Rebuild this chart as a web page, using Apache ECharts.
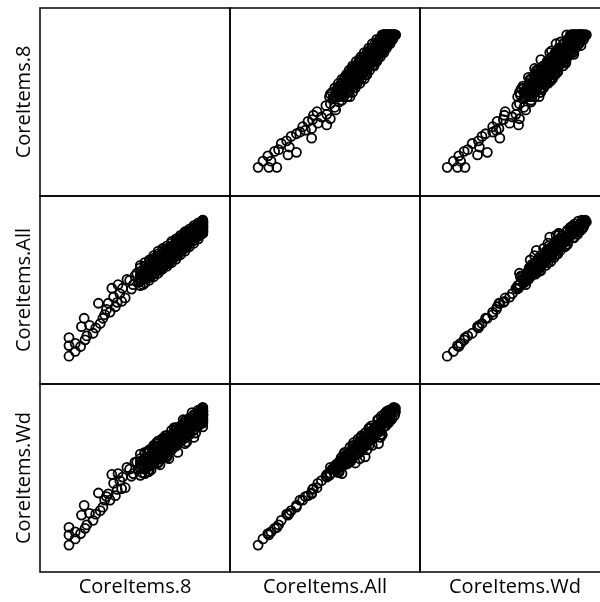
<!DOCTYPE html>
<html><head><meta charset="utf-8">
<script src="https://cdn.jsdelivr.net/npm/echarts@6/dist/echarts.min.js"></script>
<style>html,body{margin:0;padding:0;background:#fff}#c{width:600px;height:602px}</style>
</head><body><div id="c"></div>
<script>
const varNames = ['CoreItems.8', 'CoreItems.All', 'CoreItems.Wd'];

const coreItems8 = [
  1.0,1.0,1.0,1.7,1.7,2.3,2.8,2.7,2.4,3.3,3.7,4.0,4.3,4.5,5.0,5.4,5.6,5.8,6.0,6.2,6.5,6.7,6.9,7.5,7.8,7.3,8.0,8.6,8.8,8.4,3.0,5.2,7.0,6.4,8.2,4.8,
  9,9,9,9,9,9,9,9,
  9.5,9.5,9.5,9.5,9.5,9.5,9.5,9.5,
  10,10,10,10,10,10,10,10,10,10,10,10,
  10.5,10.5,10.5,10.5,10.5,10.5,10.5,10.5,10.5,10.5,10.5,10.5,
  11,11,11,11,11,11,11,11,11,11,11,11,11,11,
  11.5,11.5,11.5,11.5,11.5,11.5,11.5,11.5,11.5,11.5,11.5,11.5,11.5,11.5,
  12,12,12,12,12,12,12,12,12,12,12,12,12,12,
  12.5,12.5,12.5,12.5,12.5,12.5,12.5,12.5,12.5,12.5,12.5,12.5,12.5,12.5,
  13,13,13,13,13,13,13,13,13,13,13,13,13,13,
  13.5,13.5,13.5,13.5,13.5,13.5,13.5,13.5,13.5,13.5,13.5,13.5,13.5,13.5,
  14,14,14,14,14,14,14,14,14,14,14,14,14,14,
  14.5,14.5,14.5,14.5,14.5,14.5,14.5,14.5,14.5,14.5,14.5,14.5,14.5,14.5,
  15,15,15,15,15,15,15,15,15,15,15,15,15,15,
  15.5,15.5,15.5,15.5,15.5,15.5,15.5,15.5,15.5,15.5,15.5,15.5,15.5,15.5,
  16,16,16,16,16,16,16,16,16,16,16,16,16,16,16,16,16,16,16,16,
  9.2,9.8,10.2,10.8,11.2,11.8,12.2,12.8,13.2,13.8,14.2,14.8,15.2,15.8,16,16,16,16,
  9.3,9.9,10.3,10.9,11.3,11.9,12.3,12.9,13.3,13.9,14.3,14.9,15.3,15.9,16,16,16,16,
  9.7,10.2,10.7,11.2,11.7,12.2,12.7,13.2,13.7,14.2,14.7,15.2,15.7,16
];
const coreItemsAll = [
  0.9,2.1,3.0,2.35,1.45,2.0,2.75,5.2,4.25,4.4,3.5,4.1,6.9,4.6,5.6,6.9,5.9,8.6,7.6,6.5,9.0,8.0,7.1,9.6,9.5,7.5,8.5,10.3,9.3,10.0,3.2,6.2,8.6,7.0,9.0,5.2,
  8.9,9.4,9.8,10.1,10.5,10.9,11.2,9.6,
  9.2,9.7,10.0,10.3,10.8,11.1,11.5,10.5,
  9.5,9.8,10.1,10.4,10.6,10.9,11.1,11.3,11.6,11.8,10.3,10.7,
  9.9,10.2,10.5,10.8,11.0,11.3,11.5,11.8,12.0,12.3,10.7,11.4,
  10.3,10.6,10.9,11.1,11.3,11.6,11.8,12.0,12.2,12.5,12.8,11.4,11.9,10.8,
  10.8,11.0,11.3,11.6,11.8,12.0,12.2,12.4,12.6,12.9,13.1,11.7,12.3,11.2,
  11.1,11.4,11.7,11.9,12.1,12.3,12.5,12.7,12.9,13.1,13.4,12.0,12.6,11.6,
  11.5,11.8,12.1,12.4,12.6,12.8,13.0,13.2,13.4,13.7,13.9,12.5,13.1,12.2,
  11.9,12.2,12.5,12.8,13.0,13.2,13.4,13.6,13.8,14.0,14.2,12.9,13.5,12.7,
  12.4,12.7,13.0,13.2,13.4,13.6,13.8,14.0,14.2,14.4,14.6,13.3,13.9,13.1,
  12.8,13.1,13.4,13.6,13.8,14.0,14.2,14.4,14.6,14.8,15.0,13.9,14.3,13.5,
  13.3,13.6,13.9,14.1,14.3,14.5,14.7,14.9,15.1,15.3,14.8,14.0,14.6,15.0,
  13.7,14.0,14.3,14.5,14.7,14.9,15.1,15.3,15.5,15.7,14.6,15.0,14.4,15.2,
  14.2,14.5,14.8,15.0,15.2,15.4,15.6,15.8,16.0,14.9,15.3,15.7,14.6,15.1,
  14.8,14.9,15.0,15.1,15.2,15.3,15.4,15.5,15.6,15.7,15.8,15.9,16.0,16.1,16.2,16.3,15.5,15.8,16.0,15.2,
  9.9,10.6,10.9,11.6,11.9,12.5,12.8,13.4,13.7,14.3,14.6,15.2,15.5,15.9,15.7,16.1,15.4,15.9,
  9.0,10.0,10.5,11.0,11.5,12.0,12.4,13.0,13.3,13.8,14.8,14.7,15.2,15.6,16.2,15.0,15.6,16.3,
  10.2,10.0,11.2,10.6,12.1,11.4,12.9,12.3,13.6,13.3,14.4,14.3,15.3,15.0
];
const coreItemsWd = [
  0.8,1.95,2.8,2.3,1.5,2.1,2.7,5.3,4.2,4.4,3.6,4.3,6.7,4.7,5.9,6.6,5.9,8.8,7.8,6.4,8.9,8.1,7.2,9.6,9.4,7.3,8.6,10.2,9.4,10.2,3.1,6.3,8.5,7.1,8.9,5.1,
  8.7,9.6,9.5,10.3,10.0,10.6,11.1,9.9,
  9.4,9.5,10.2,8.9,10.6,11.3,11.2,10.1,
  9.7,9.4,10.3,10.1,10.9,10.5,11.3,10.8,11.5,11.6,9.9,10.2,
  10.1,10.0,10.6,10.4,11.2,10.3,11.4,11.5,11.9,12.1,10.9,10.8,
  10.5,10.2,11.0,10.7,11.4,11.1,10.1,11.8,12.0,12.3,12.6,10.6,11.5,10.9,
  10.9,11.2,10.8,11.7,11.3,12.1,11.6,12.3,11.9,12.7,12.9,11.5,10.6,11.3,
  11.0,11.5,11.3,11.9,12.2,11.7,12.4,12.1,10.8,13.0,13.2,12.1,12.6,11.8,
  11.6,11.7,12.2,12.0,12.7,12.3,12.9,12.6,13.3,12.1,13.8,12.6,11.6,12.4,
  12.0,12.1,12.6,12.4,13.1,12.7,12.2,13.5,13.2,13.9,14.1,12.9,13.0,12.8,
  12.5,12.6,13.1,12.8,13.5,13.0,13.7,13.6,14.1,14.3,13.3,13.4,12.9,13.2,
  12.9,13.0,13.5,13.2,13.9,13.6,14.1,12.3,14.5,14.7,14.9,14.0,13.7,13.6,
  13.4,13.5,14.0,13.7,14.4,14.1,14.6,14.8,15.0,15.2,13.3,13.9,14.3,14.6,
  13.8,13.9,14.4,14.2,14.8,14.5,15.0,15.2,15.6,15.5,13.0,14.7,14.5,14.9,
  14.3,14.4,14.9,14.7,15.3,15.0,15.5,15.8,16.1,15.0,15.2,15.6,14.5,14.8,
  14.7,14.6,15.1,14.9,15.0,15.2,15.5,15.3,15.6,15.5,15.7,15.9,16.0,16.2,16.1,16.3,15.6,15.8,15.9,15.4,
  9.0,11.3,10.0,12.4,11.0,13.2,11.9,14.1,12.8,15.0,13.7,15.8,14.6,16.2,14.9,16.4,16.0,15.1,
  9.6,9.1,11.1,10.1,12.1,11.2,13.0,12.1,14.0,12.9,13.3,15.4,14.3,16.1,15.5,15.6,14.8,15.9,
  10.7,9.3,11.9,9.9,12.8,10.6,13.5,11.3,14.3,12.5,15.0,13.5,15.9,14.2
];

const AX_MIN = -2.25, AX_MAX = 19.05;
const vars = [coreItems8, coreItemsAll, coreItemsWd];
const nameStyle = { fontFamily: 'Open Sans', fontSize: 20, color: '#000' };

const grids = [], xAxes = [], yAxes = [], series = [];
for (let r = 0; r < 3; r++) {
  for (let c = 0; c < 3; c++) {
    const idx = r * 3 + c;
    grids.push({
      left: 40 + 190 * c, top: 8 + 188 * r, width: 190, height: 188,
      show: true, borderColor: '#000', borderWidth: 1.5,
      backgroundColor: 'transparent', outerBoundsMode: 'none', containLabel: false
    });
    const common = {
      gridIndex: idx, type: 'value', min: AX_MIN, max: AX_MAX,
      axisLine: { show: false }, axisTick: { show: false },
      axisLabel: { show: false }, splitLine: { show: false },
      nameLocation: 'middle', nameTextStyle: nameStyle
    };
    xAxes.push(Object.assign({}, common, { name: r === 2 ? varNames[c] : '', nameGap: 5 }));
    yAxes.push(Object.assign({}, common, { name: c === 0 ? varNames[r] : '', nameGap: 6, nameRotate: 90 }));
    if (r !== c) {
      series.push({
        type: 'scatter', xAxisIndex: idx, yAxisIndex: idx,
        data: vars[c].map((v, i) => [v, vars[r][i]]),
        symbol: 'circle', symbolSize: 9, silent: true,
        itemStyle: { color: 'rgba(0,0,0,0)', borderColor: '#000', borderWidth: 1.8, opacity: 1 }
      });
    }
  }
}

const chart = echarts.init(document.getElementById('c'), null, { renderer: 'canvas' });
chart.setOption({
  animation: false,
  backgroundColor: '#fff',
  grid: grids, xAxis: xAxes, yAxis: yAxes, series: series
});
</script></body></html>
